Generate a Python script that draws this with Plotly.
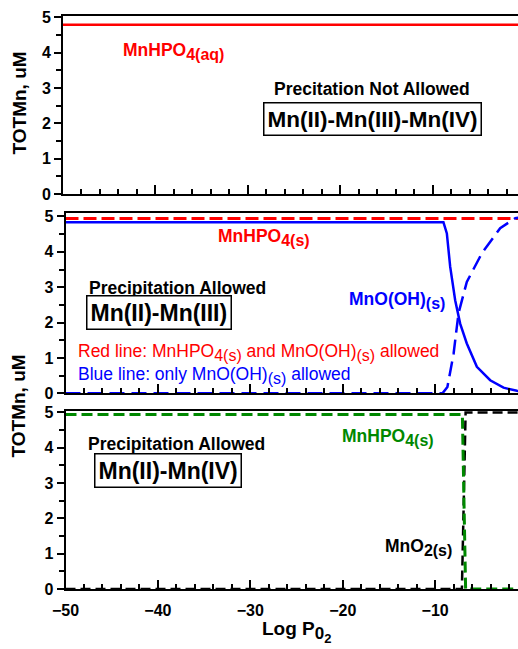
import plotly.graph_objects as go

# ---------------- data ----------------
# top panel (precipitation not allowed)
top_x = [-50, 0]
top_mnhpo4_aq = [4.79, 4.79]

# middle panel (Mn(II)-Mn(III))
mid_red_x = [-50, 0]
mid_red_y = [4.94, 4.94]
mid_blue_solid_x = [-50, -9.1, -8.73, -8.37, -7.83, -7.29, -6.57, -5.48, -4.04, -2.6, -1.15, 0]
mid_blue_solid_y = [4.84, 4.84, 4.52, 3.58, 2.63, 1.97, 1.41, 0.75, 0.37, 0.16, 0.07, 0.05]
mid_blue_dash_x = [-50, -9.2, -8.67, -8.0, -7.47, -6.57, -4.94, -2.96, -1.33, 0]
mid_blue_dash_y = [0, 0, 0.18, 1.12, 2.26, 3.15, 3.96, 4.67, 4.95, 5.0]

# bottom panel (Mn(II)-Mn(IV))
bot_green_x = [-50, -7.05, -6.7, 0]
bot_green_y = [4.94, 4.94, 0, 0]
bot_black_x = [-50, -7.1, -6.7, 0]
bot_black_y = [0, 0, 5.0, 5.0]

# axis ticks
x_ticks = [-50, -40, -30, -20, -10]
y_ticks = [0, 1, 2, 3, 4, 5]

# ---------------- figure ----------------
W, H = 518, 649
ML, MR, MT, MB = 63, 0, 16, 60
PW, PH = W - ML - MR, H - MT - MB

def fx(p):
    return (p - ML) / PW

def fy(p):
    return (H - MB - p) / PH

RED, BLUE, GREEN, BLACK = "#ff0000", "#0000ff", "#008800", "#000000"
FONT = "Liberation Sans, Arial, sans-serif"

def sub(t, size):
    return '<sub><span style="font-size:%gpx">%s</span></sub>' % (size, t)

fig = go.Figure()
# top
fig.add_trace(go.Scatter(x=top_x, y=top_mnhpo4_aq, mode="lines",
                         line=dict(color=RED, width=2.5), xaxis="x3", yaxis="y3"))
# middle
fig.add_trace(go.Scatter(x=mid_red_x, y=mid_red_y, mode="lines",
                         line=dict(color=RED, width=3, dash="13px,5px"), xaxis="x2", yaxis="y2"))
fig.add_trace(go.Scatter(x=mid_blue_solid_x, y=mid_blue_solid_y, mode="lines",
                         line=dict(color=BLUE, width=2.5), xaxis="x2", yaxis="y2"))
fig.add_trace(go.Scatter(x=mid_blue_dash_x, y=mid_blue_dash_y, mode="lines",
                         line=dict(color=BLUE, width=2.5, dash="15px,7px"), xaxis="x2", yaxis="y2"))
# bottom
fig.add_trace(go.Scatter(x=bot_black_x, y=bot_black_y, mode="lines",
                         line=dict(color=BLACK, width=2.5, dash="10px,5px"), xaxis="x", yaxis="y"))
fig.add_trace(go.Scatter(x=bot_green_x, y=bot_green_y, mode="lines",
                         line=dict(color=GREEN, width=3, dash="11px,5px"), xaxis="x", yaxis="y"))

xrng = [-50, -1.03]
xcommon = dict(showgrid=False, zeroline=False, showline=True, linecolor=BLACK, linewidth=2,
               mirror=True, ticks="inside", ticklen=9, tickwidth=1.5, tickcolor=BLACK,
               tickvals=x_ticks,
               minor=dict(dtick=2, tick0=0, ticks="inside", ticklen=5, tickwidth=1.5, tickcolor=BLACK),
               tickfont=dict(family=FONT, size=16, color=BLACK, weight="bold"))
ycommon = dict(showgrid=False, zeroline=False, showline=True, linecolor=BLACK, linewidth=2,
               ticks="outside", ticklen=7, tickwidth=1.5, tickcolor=BLACK,
               tickvals=y_ticks,
               minor=dict(dtick=0.5, tick0=0, ticks="outside", ticklen=5, tickwidth=1.5, tickcolor=BLACK),
               tickfont=dict(family=FONT, size=16, color=BLACK, weight="bold"))

off = 2.5 / PW
fig.update_layout(
    width=W, height=H, margin=dict(l=ML, r=MR, t=MT, b=MB),
    plot_bgcolor="white", paper_bgcolor="white", showlegend=False,
    xaxis=dict(xcommon, domain=[off, 1], range=xrng, anchor="y", ticklabelstandoff=6),
    xaxis2=dict(xcommon, domain=[off, 1], range=xrng, anchor="y2", showticklabels=False),
    xaxis3=dict(xcommon, domain=[0, 1], range=[-50, -1.03 + 2.5 / 9.25], anchor="y3", showticklabels=False),
    yaxis=dict(ycommon, domain=[0, fy(411)], range=[0, 5.04], anchor="x"),
    yaxis2=dict(ycommon, domain=[fy(393.3), fy(213.3)], range=[0, 5.09], anchor="x2"),
    yaxis3=dict(ycommon, domain=[fy(194), 1], range=[0, 5.04], anchor="x3"),
)

ann = []
def label(text, x, y, color, size, xanchor="left", bold=True, box=False):
    t = "<b>" + text + "</b>" if bold else text
    d = dict(text=t, x=fx(x), y=fy(y), xref="paper", yref="paper", xanchor=xanchor,
             yanchor="middle", showarrow=False,
             font=dict(family=FONT, size=size, color=color))
    if box:
        d.update(bordercolor=BLACK, borderwidth=1.5, borderpad=3, bgcolor="white")
    ann.append(d)

# top
label("MnHPO" + sub("4(aq)", 16), 121, 52, RED, 17.5)
label("Precitation Not Allowed", 372, 89, BLACK, 17.5, xanchor="center")
label("Mn(II)-Mn(III)-Mn(IV)", 372, 119, BLACK, 22.5, xanchor="center", box=True)
# middle
label("MnHPO" + sub("4(s)", 16), 216, 238, RED, 17.5)
label("Precipitation Allowed", 177.5, 288, BLACK, 17.5, xanchor="center")
label("Mn(II)-Mn(III)", 158.5, 312.5, BLACK, 23, xanchor="center", box=True)
label("MnO(OH)" + sub("(s)", 16), 347, 300, BLUE, 17.5)
label("Red line: MnHPO" + sub("4(s)", 16) + " and MnO(OH)" + sub("(s)", 16) + " allowed",
      76, 352, RED, 17.5, bold=False)
label("Blue line: only MnO(OH)" + sub("(s)", 16) + " allowed", 76, 375, BLUE, 17.5, bold=False)
# bottom
label("MnHPO" + sub("4(s)", 16), 340, 437, GREEN, 17.5)
label("Precipitation Allowed", 176.5, 444, BLACK, 17.5, xanchor="center")
label("Mn(II)-Mn(IV)", 168, 470.5, BLACK, 23, xanchor="center", box=True)
label("MnO" + sub("2(s)", 16), 383, 547, BLACK, 17.5)

# axis titles
for yc in (103, 406):
    ann.append(dict(text="<b>TOTMn, uM</b>", x=fx(18.5), y=fy(yc), xref="paper", yref="paper",
                    xanchor="center", yanchor="middle", textangle=-90, showarrow=False,
                    font=dict(family=FONT, size=19, color=BLACK)))
ann.append(dict(text="<b>Log P" + sub("0" + sub("2", 13), 17) + "</b>", x=fx(260), y=fy(632),
                xref="paper", yref="paper", xanchor="left", yanchor="middle", showarrow=False,
                font=dict(family=FONT, size=19, color=BLACK)))
fig.update_layout(annotations=ann)

fig.write_html("out.html", config={"displayModeBar": False},
               post_script="document.body.style.margin='0';")
